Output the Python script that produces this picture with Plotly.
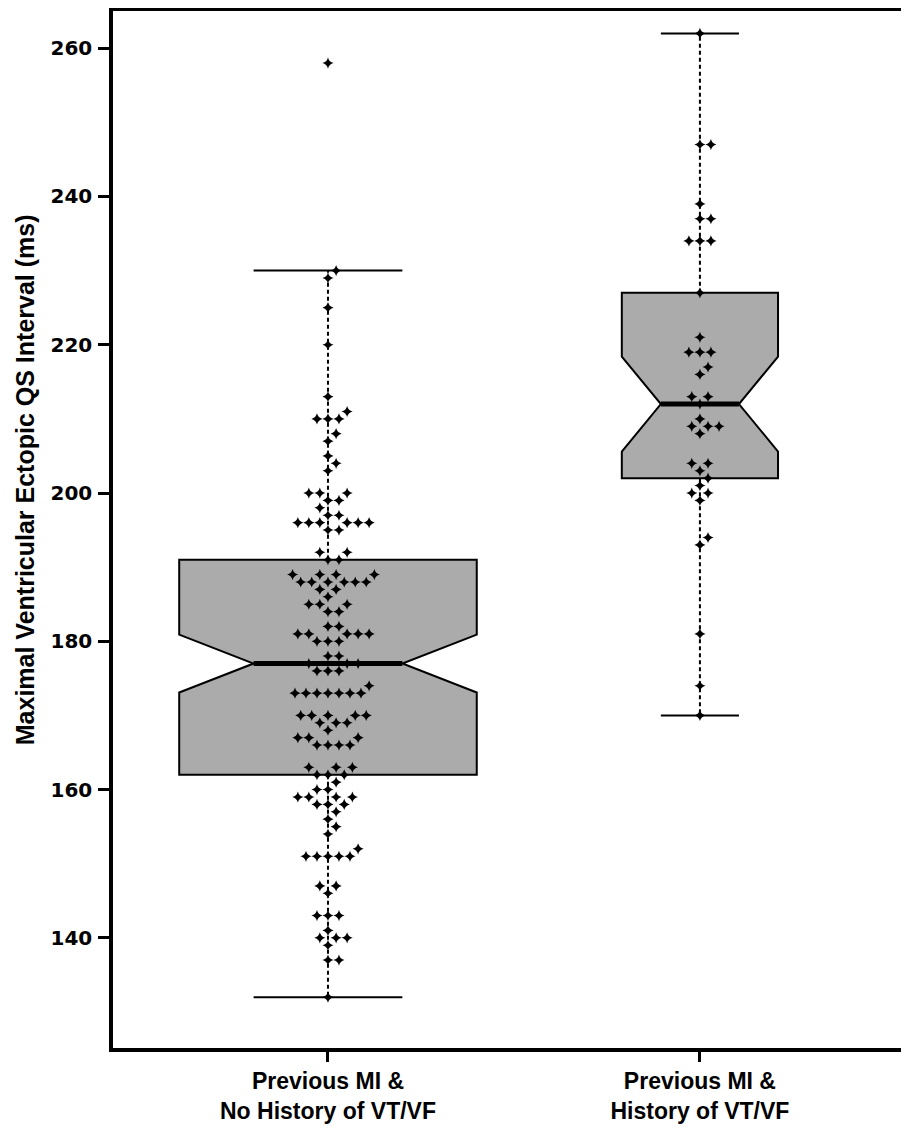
import math
import numpy as np
import plotly.graph_objects as go

# categories (x axis)
groups = ["Previous MI &<br>No History of VT/VF", "Previous MI &<br>History of VT/VF"]

# QS interval values (ms) and how many dots sit at each value
g1_ms = [132, 137, 139, 140, 141, 143, 146, 147, 151, 152, 154, 155, 156, 157, 158, 159, 160,
         161, 162, 163, 166, 167, 168, 169, 170, 173, 174, 176, 177, 178, 180, 181, 182, 184,
         185, 186, 187, 188, 189, 191, 192, 195, 196, 197, 198, 199, 200, 203, 204, 205, 207,
         208, 210, 211, 213, 220, 225, 229, 230, 258]
g1_n = [1, 2, 1, 3, 1, 3, 1, 2, 5, 1, 1, 1, 1, 1, 3, 4, 2,
        1, 3, 3, 4, 3, 1, 3, 5, 7, 1, 3, 3, 2, 3, 5, 2, 2,
        3, 1, 2, 6, 4, 2, 2, 2, 6, 2, 1, 2, 3, 1, 1, 1, 1,
        1, 3, 1, 1, 1, 1, 1, 1, 1]

g2_ms = [170, 174, 181, 193, 194, 199, 200, 201, 202, 203, 204, 208, 209, 210, 212, 213,
         216, 217, 219, 221, 227, 234, 237, 239, 247, 262]
g2_n = [1, 1, 1, 1, 1, 1, 2, 1, 1, 1, 2, 1, 3, 1, 1, 2,
        1, 1, 3, 1, 1, 3, 2, 1, 2, 1]

# box statistics as drawn
box_q1 = [162, 202]
box_med = [177, 212]
box_q3 = [191, 227]
box_lo = [132, 170]
box_hi = [230, 262]
box_notch = [3.9, 6.4]

# layout bits (page has an 8px body margin, so the figure is a bit smaller)
W, H = 901, 1121
ML, MR, MT, MB = 105, 6, 3, 81
XR = [-0.578, 1.546]
YR = [125.14, 265.02]
BOX_W = [0.80, 0.42]      # varwidth style boxes
DOT = 11.0                # dot spacing in px for the swarm

px_x = (W - ML - MR) / (XR[1] - XR[0])
px_y = (H - MT - MB) / (YR[1] - YR[0])


def swarm(values):
    # simple beeswarm: put each dot as close to the centre as it can go,
    # right side wins a tie (like R's beeswarm)
    placed = []
    offs = []
    for v in values:
        y = v * px_y
        near = [(a, b) for a, b in placed if abs(b - y) < DOT]
        cands = [0.0]
        for a, b in near:
            dx = math.sqrt(DOT ** 2 - (b - y) ** 2)
            cands += [a + dx, a - dx]
        cands.sort(key=lambda c: (round(abs(c), 6), -c))
        for c in cands:
            if all((c - a) ** 2 + (y - b) ** 2 >= DOT ** 2 - 1e-6 for a, b in near):
                break
        placed.append((c, y))
        offs.append(c / px_x)
    return np.array(offs)


fig = go.Figure()

for i in range(2):
    fig.add_trace(go.Box(
        x=[i], q1=[box_q1[i]], median=[box_med[i]], q3=[box_q3[i]],
        lowerfence=[box_q1[i]], upperfence=[box_q3[i]],
        notched=True, notchspan=[box_notch[i]], notchwidth=0.25,
        width=BOX_W[i], whiskerwidth=0,
        fillcolor="#ababab", line=dict(color="black", width=2),
        boxpoints=False, hoverinfo="skip", showlegend=False))

for i in range(2):
    # dashed whiskers
    fig.add_trace(go.Scatter(
        x=[i, i, None, i, i], y=[box_q3[i], box_hi[i], None, box_q1[i], box_lo[i]],
        mode="lines", line=dict(color="black", width=2, dash="4px,3px"),
        hoverinfo="skip", showlegend=False))
    # staples
    cw = BOX_W[i] / 4
    fig.add_trace(go.Scatter(
        x=[i - cw, i + cw, None, i - cw, i + cw],
        y=[box_hi[i], box_hi[i], None, box_lo[i], box_lo[i]],
        mode="lines", line=dict(color="black", width=2),
        hoverinfo="skip", showlegend=False))
    # thick median
    mw = BOX_W[i] / 4
    fig.add_trace(go.Scatter(
        x=[i - mw, i + mw], y=[box_med[i], box_med[i]],
        mode="lines", line=dict(color="black", width=5),
        hoverinfo="skip", showlegend=False))

for i, (ms, n) in enumerate([(g1_ms, g1_n), (g2_ms, g2_n)]):
    vals = np.repeat(ms, n)
    xs = i + swarm(vals)
    fig.add_trace(go.Scatter(
        x=xs, y=vals, mode="markers",
        marker=dict(symbol="star-diamond", size=8, color="black"),
        hoverinfo="skip", showlegend=False))

fnt = "Liberation Sans, Arial, sans-serif"
fig.update_layout(
    width=W, height=H,
    margin=dict(l=ML, r=MR, t=MT, b=MB, autoexpand=False),
    plot_bgcolor="white", paper_bgcolor="white",
    font=dict(family=fnt, color="black"),
    xaxis=dict(range=XR, tickvals=[0, 1], ticktext=groups, showgrid=False, zeroline=False,
               showline=True, linecolor="black", linewidth=3.5, mirror=True,
               ticks="outside", ticklen=10, tickwidth=3, tickcolor="black",
               automargin=False, tickfont=dict(size=23, weight="bold")),
    yaxis=dict(range=YR, tickvals=[140, 160, 180, 200, 220, 240, 260], showgrid=False,
               zeroline=False, showline=True, linecolor="black", linewidth=3.5, mirror=True,
               ticks="outside", ticklen=11, tickwidth=3, tickcolor="black",
               automargin=False, ticklabelstandoff=2,
               tickfont=dict(family="DejaVu Sans", size=20, weight="bold")),
    annotations=[dict(text="Maximal Ventricular Ectopic QS Interval (ms)", textangle=-90,
                      xref="paper", yref="paper", x=-0.112, y=0.548,
                      xanchor="center", yanchor="middle", showarrow=False,
                      font=dict(size=25, weight="bold"))],
)

fig.write_html("out.html")
